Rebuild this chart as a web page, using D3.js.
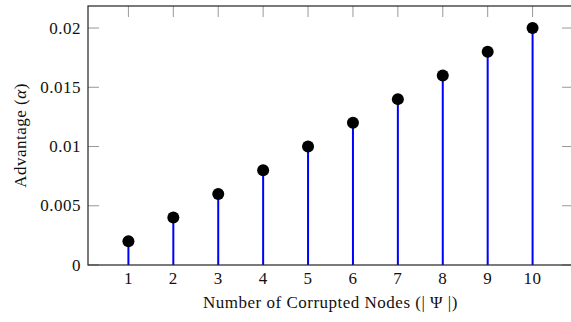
<!DOCTYPE html>
<html>
<head>
<meta charset="utf-8">
<script src="https://cdn.jsdelivr.net/npm/d3@7"></script>
<style>
  body { margin: 0; background: #fff; }
  text { font-family: "Liberation Serif", "DejaVu Serif", serif; fill: #111; letter-spacing: 0.5px; }
</style>
</head>
<body>
<svg width="571" height="322"></svg>
<script>
const nodes = [1, 2, 3, 4, 5, 6, 7, 8, 9, 10];
const advantage = [0.002, 0.004, 0.006, 0.008, 0.01, 0.012, 0.014, 0.016, 0.018, 0.02];
const yTicks = [0, 0.005, 0.01, 0.015, 0.02];
const yTickLabels = ["0", "0.005", "0.01", "0.015", "0.02"];

const svg = d3.select("svg");
const mLeft = 88, mRight = 573, mTop = 6, mBottom = 265;
const tickLen = 11;
const fs = 17;

const x = d3.scaleLinear().domain([0.1, 10.9]).range([mLeft, mRight]);
const y = d3.scaleLinear().domain([0, 0.02186]).range([mBottom, mTop]);

// ticks (inward, on all four sides like pgfplots)
const ticks = svg.append("g").attr("stroke", "#999").attr("stroke-width", 1);
nodes.forEach(function (d) {
  ticks.append("line").attr("x1", x(d)).attr("x2", x(d)).attr("y1", mBottom).attr("y2", mBottom - tickLen);
  ticks.append("line").attr("x1", x(d)).attr("x2", x(d)).attr("y1", mTop).attr("y2", mTop + tickLen);
});
yTicks.forEach(function (d) {
  ticks.append("line").attr("x1", mLeft).attr("x2", mLeft + tickLen).attr("y1", y(d)).attr("y2", y(d));
  ticks.append("line").attr("x1", mRight).attr("x2", mRight - tickLen).attr("y1", y(d)).attr("y2", y(d));
});

// stems
svg.append("g")
  .selectAll("line")
  .data(nodes)
  .enter()
  .append("line")
  .attr("x1", function (d) { return x(d); })
  .attr("x2", function (d) { return x(d); })
  .attr("y1", y(0))
  .attr("y2", function (d, i) { return y(advantage[i]); })
  .attr("stroke", "#0000ff")
  .attr("stroke-width", 2);

// frame
svg.append("rect")
  .attr("x", mLeft)
  .attr("y", mTop)
  .attr("width", mRight - mLeft)
  .attr("height", mBottom - mTop)
  .attr("fill", "none")
  .attr("stroke", "#222")
  .attr("stroke-width", 1.2);

// dots
svg.append("g")
  .selectAll("circle")
  .data(nodes)
  .enter()
  .append("circle")
  .attr("cx", function (d) { return x(d); })
  .attr("cy", function (d, i) { return y(advantage[i]); })
  .attr("r", 6)
  .attr("fill", "#000");

// tick labels
svg.append("g")
  .selectAll("text")
  .data(nodes)
  .enter()
  .append("text")
  .attr("x", function (d) { return x(d); })
  .attr("y", 284)
  .attr("text-anchor", "middle")
  .attr("font-size", fs)
  .text(function (d) { return d; });

svg.append("g")
  .selectAll("text")
  .data(yTicks)
  .enter()
  .append("text")
  .attr("x", 81)
  .attr("y", function (d) { return y(d) + 5.5; })
  .attr("text-anchor", "end")
  .attr("font-size", fs)
  .text(function (d, i) { return yTickLabels[i]; });

// axis titles
svg.append("text")
  .attr("x", (mLeft + mRight) / 2)
  .attr("y", 308)
  .attr("text-anchor", "middle")
  .attr("font-size", fs)
  .text("Number of Corrupted Nodes (| Ψ |)");

const yt = svg.append("text")
  .attr("transform", "translate(26," + (mTop + mBottom) / 2 + ") rotate(-90)")
  .attr("text-anchor", "middle")
  .attr("font-size", fs);
yt.append("tspan").text("Advantage (");
yt.append("tspan").attr("font-style", "italic").text("α");
yt.append("tspan").text(")");
</script>
</body>
</html>
